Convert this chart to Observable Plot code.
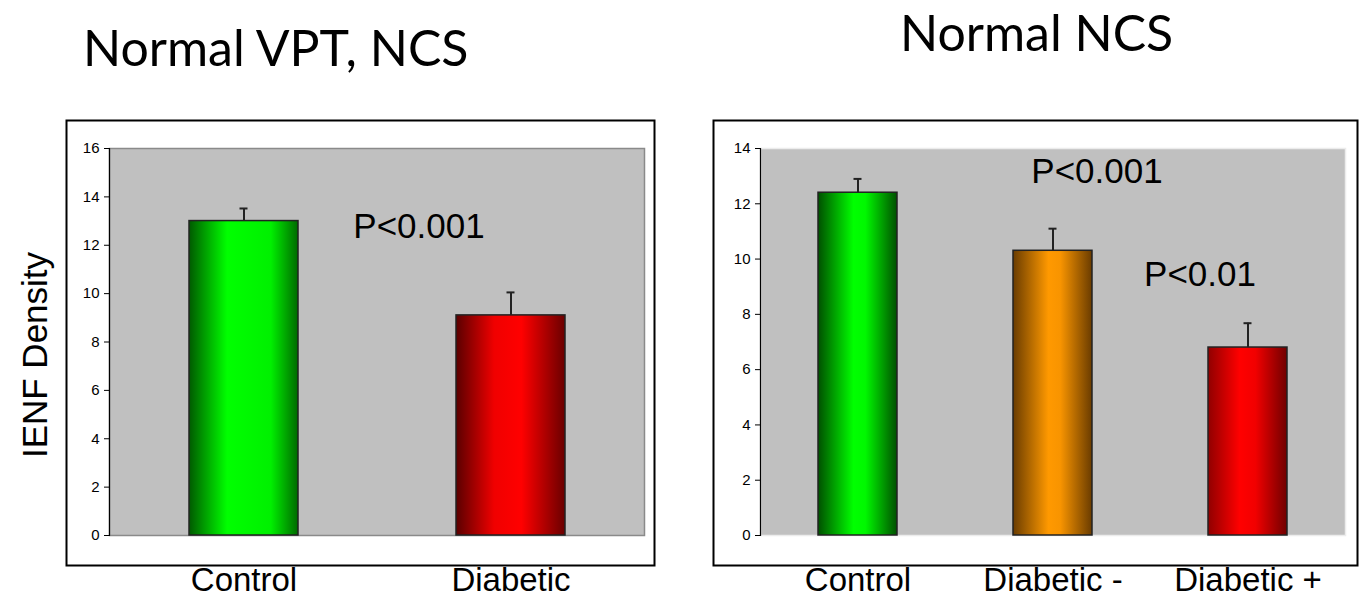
<!DOCTYPE html>
<html><head><meta charset="utf-8">
<script src="https://cdn.jsdelivr.net/npm/d3@7"></script>
<script src="https://cdn.jsdelivr.net/npm/@observablehq/plot@0.6"></script>
<style>
body{margin:0;width:1367px;height:605px;background:#fff;position:relative;overflow:hidden}
.t{position:absolute;font-family:Lato,"Open Sans",sans-serif;color:#000;white-space:nowrap}
.p{position:absolute}
</style></head><body>
<div class="t" id="t1" style="left:83px;top:17px;font-size:50px">Normal VPT, NCS</div>
<div class="t" id="t2" style="left:900px;top:2px;font-size:50px">Normal NCS</div>
<div class="p" id="left" style="left:0;top:100px"></div>
<div class="p" id="right" style="left:683px;top:100px"></div>
<script>
const leftCats = ["Control", "Diabetic"];
const leftMeans = [13.0, 9.1];
const leftErr = [0.52, 0.95];
const leftFills = ["url(#gGreenL)", "url(#gRedL)"];
const leftTicks = [0, 2, 4, 6, 8, 10, 12, 14, 16];

const rightCats = ["Control", "Diabetic -", "Diabetic +"];
const rightMeans = [12.4, 10.3, 6.8];
const rightErr = [0.5, 0.8, 0.88];
const rightFills = ["url(#gGreenR)", "url(#gOrange)", "url(#gRedR)"];
const rightTicks = [0, 2, 4, 6, 8, 10, 12, 14];

const defs = `<defs>
<linearGradient id="gGreenL" x1="0" x2="1" y1="0" y2="0"><stop offset="0" stop-color="#005a00"/><stop offset="0.35" stop-color="#00ff00"/><stop offset="0.75" stop-color="#00f000"/><stop offset="1" stop-color="#006a00"/></linearGradient>
<linearGradient id="gRedL" x1="0" x2="1" y1="0" y2="0"><stop offset="0" stop-color="#5a0000"/><stop offset="0.35" stop-color="#f00000"/><stop offset="0.6" stop-color="#ff0000"/><stop offset="1" stop-color="#6a0000"/></linearGradient>
<linearGradient id="gGreenR" x1="0" x2="1" y1="0" y2="0"><stop offset="0" stop-color="#005000"/><stop offset="0.45" stop-color="#00ff00"/><stop offset="0.6" stop-color="#00f800"/><stop offset="1" stop-color="#005000"/></linearGradient>
<linearGradient id="gOrange" x1="0" x2="1" y1="0" y2="0"><stop offset="0" stop-color="#6a3c00"/><stop offset="0.45" stop-color="#ff9900"/><stop offset="0.6" stop-color="#f89400"/><stop offset="1" stop-color="#6a3c00"/></linearGradient>
<linearGradient id="gRedR" x1="0" x2="1" y1="0" y2="0"><stop offset="0" stop-color="#900000"/><stop offset="0.4" stop-color="#ff0000"/><stop offset="0.6" stop-color="#f20000"/><stop offset="1" stop-color="#700000"/></linearGradient>
</defs>`;

const arial = "'Liberation Sans', Arial, sans-serif";

function panel(cats, means, errs, fills, ticks, o) {
  const data = cats.map((c, i) => ({c, v: means[i], e: errs[i], f: fills[i]}));
  const bw = o.bandwidth;
  const svg = Plot.plot({
    width: o.width, height: 505,
    marginLeft: o.ml, marginRight: o.mr, marginTop: 48, marginBottom: 70,
    style: {fontFamily: arial, background: "transparent", overflow: "visible"},
    x: {domain: cats, paddingInner: o.pi, paddingOuter: o.po},
    y: {domain: [0, ticks[ticks.length - 1]]},
    color: {type: "identity"},
    marks: [
      Plot.frame({insetLeft: -o.fl, insetTop: -28, insetRight: -o.fr, insetBottom: -30, stroke: "#000", strokeWidth: 2}),
      Plot.frame({fill: "#c0c0c0", stroke: o.areaStroke, strokeWidth: 1.5}),
      Plot.frame({anchor: "left", stroke: "#000", strokeWidth: 1.2}),
      Plot.ruleX(data, {x: "c", y1: "v", y2: d => d.v + d.e, stroke: "#222", strokeWidth: 2}),
      Plot.tickY(data, {x: "c", y: d => d.v + d.e, stroke: "#222", strokeWidth: 2, insetLeft: (bw - 8) / 2, insetRight: (bw - 8) / 2}),
      Plot.barY(data, {x: "c", y: "v", fill: "f", stroke: "#222", strokeWidth: 1.5}),
      Plot.axisY({ticks, tickSize: 5, tickPadding: 5, fontSize: 15, label: null, stroke: "#000"}),
      Plot.axisX({tickSize: 0, tickPadding: 32, fontSize: 33, label: null, fill: "#000"}),
      ...o.extra
    ]
  });
  svg.insertAdjacentHTML("afterbegin", defs);
  return svg;
}

document.getElementById("left").append(panel(leftCats, leftMeans, leftErr, leftFills, leftTicks, {
  width: 683, ml: 109, mr: 39, fl: 43, fr: 10, pi: 0.592, po: 0.296, bandwidth: 109, areaStroke: "#8a8a8a",
  extra: [
    Plot.text(["IENF Density"], {frameAnchor: "left", textAnchor: "middle", dx: -74, dy: 13, rotate: -90, fontSize: 35, fill: "#000"}),
    Plot.text(["P<0.001"], {x: () => "Diabetic", y: () => 12.77, dx: -92, fontSize: 35, fill: "#000"})
  ]
}));

document.getElementById("right").append(panel(rightCats, rightMeans, rightErr, rightFills, rightTicks, {
  width: 684, ml: 77, mr: 22, fl: 47, fr: 12, pi: 0.595, po: 0.2975, bandwidth: 79, areaStroke: "#ececec",
  extra: [
    Plot.text(["P<0.001"], {x: () => "Diabetic -", y: () => 13.17, dx: 44, fontSize: 35, fill: "#000"}),
    Plot.text(["P<0.01"], {x: () => "Diabetic +", y: () => 9.43, dx: -48, fontSize: 35, fill: "#000"})
  ]
}));
</script>
</body></html>
